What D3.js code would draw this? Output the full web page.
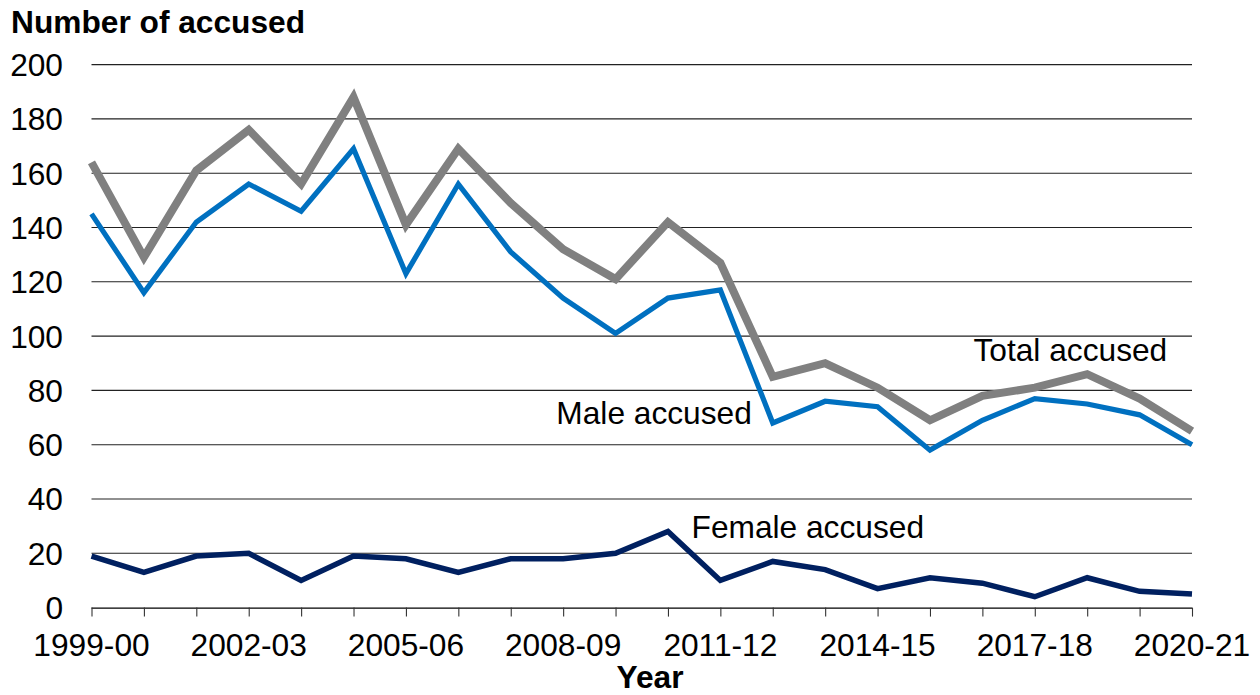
<!DOCTYPE html>
<html>
<head>
<meta charset="utf-8">
<script src="https://cdn.jsdelivr.net/npm/d3@7"></script>
<style>
  html, body { margin: 0; padding: 0; background: #fff; }
  svg { display: block; font-family: "Liberation Sans", Arial, sans-serif; }
</style>
</head>
<body>
<svg id="chart" width="1260" height="695"></svg>
<script>
const years = ["1999-00","2000-01","2001-02","2002-03","2003-04","2004-05","2005-06","2006-07","2007-08","2008-09","2009-10","2010-11","2011-12","2012-13","2013-14","2014-15","2015-16","2016-17","2017-18","2018-19","2019-20","2020-21"];
const totalAccused = [164,129,161,176,156,188,141,169,149,132,121,142,127,85,90,81,69,78,81,86,77,65];
const maleAccused = [145,116,142,156,146,169,123,156,131,114,101,114,117,68,76,74,58,69,77,75,71,60];
const femaleAccused = [19,13,19,20,10,19,18,13,18,18,20,28,10,17,14,7,11,9,4,11,6,5];
const yTicks = [0,20,40,60,80,100,120,140,160,180,200];
const xTickLabels = ["1999-00","2002-03","2005-06","2008-09","2011-12","2014-15","2017-18","2020-21"];

const seriesList = [
  { name: "Total accused", values: totalAccused, color: "#808080", width: 8, labelAt: [16.83, 90.8] },
  { name: "Male accused", values: maleAccused, color: "#0070C0", width: 5.2, labelAt: [8.87, 67.5] },
  { name: "Female accused", values: femaleAccused, color: "#002060", width: 5.5, labelAt: [11.45, 25.7] }
];

const svg = d3.select("#chart");
const mLeft = 91.5, mRight = 1192, mTop = 64.6, mBottom = 607.6;
const fs = 31.7;

const x = d3.scaleLinear().domain([0, years.length - 1]).range([mLeft, mRight]);
const y = d3.scaleLinear().domain([0, 200]).range([mBottom, mTop]);

// gridlines
svg.append("g").selectAll("line").data(yTicks.filter(d => d > 0)).join("line")
  .attr("x1", mLeft).attr("x2", mRight)
  .attr("y1", d => y(d)).attr("y2", d => y(d))
  .attr("stroke", "#222").attr("stroke-width", 1.1);

// y axis labels
svg.append("g").selectAll("text").data(yTicks).join("text")
  .attr("x", 63).attr("y", d => y(d)).attr("dy", "0.36em")
  .attr("text-anchor", "end").attr("font-size", fs).attr("fill", "#000")
  .text(d => d);

// x axis
const xAxis = d3.axisBottom(x)
  .tickValues(d3.range(years.length))
  .tickSize(9)
  .tickFormat(() => "");
const gx = svg.append("g").attr("transform", `translate(0,${mBottom})`).call(xAxis);
gx.select(".domain").attr("stroke", "#000").attr("stroke-width", 1.2).attr("d", `M${mLeft},0.5H${mRight}`);
gx.selectAll(".tick line").attr("stroke", "#333").attr("stroke-width", 1.1);

svg.append("g").selectAll("text").data(xTickLabels).join("text")
  .attr("x", d => x(years.indexOf(d))).attr("y", 656)
  .attr("text-anchor", "middle").attr("font-size", fs).attr("fill", "#000")
  .text(d => d);

// lines
const line = d3.line().x((d, i) => x(i)).y(d => y(d));
svg.append("g").selectAll("path").data(seriesList).join("path")
  .attr("d", d => line(d.values))
  .attr("fill", "none").attr("stroke", d => d.color)
  .attr("stroke-width", d => d.width).attr("stroke-linejoin", "miter");

// series labels
svg.append("g").selectAll("text").data(seriesList).join("text")
  .attr("x", d => x(d.labelAt[0])).attr("y", d => y(d.labelAt[1]))
  .attr("font-size", fs).attr("fill", "#000")
  .text(d => d.name);

// titles
svg.append("text").attr("x", 11).attr("y", 33)
  .attr("font-size", fs).attr("font-weight", "bold").text("Number of accused");
svg.append("text").attr("x", 650).attr("y", 688).attr("text-anchor", "middle")
  .attr("font-size", fs).attr("font-weight", "bold").text("Year");
</script>
</body>
</html>
